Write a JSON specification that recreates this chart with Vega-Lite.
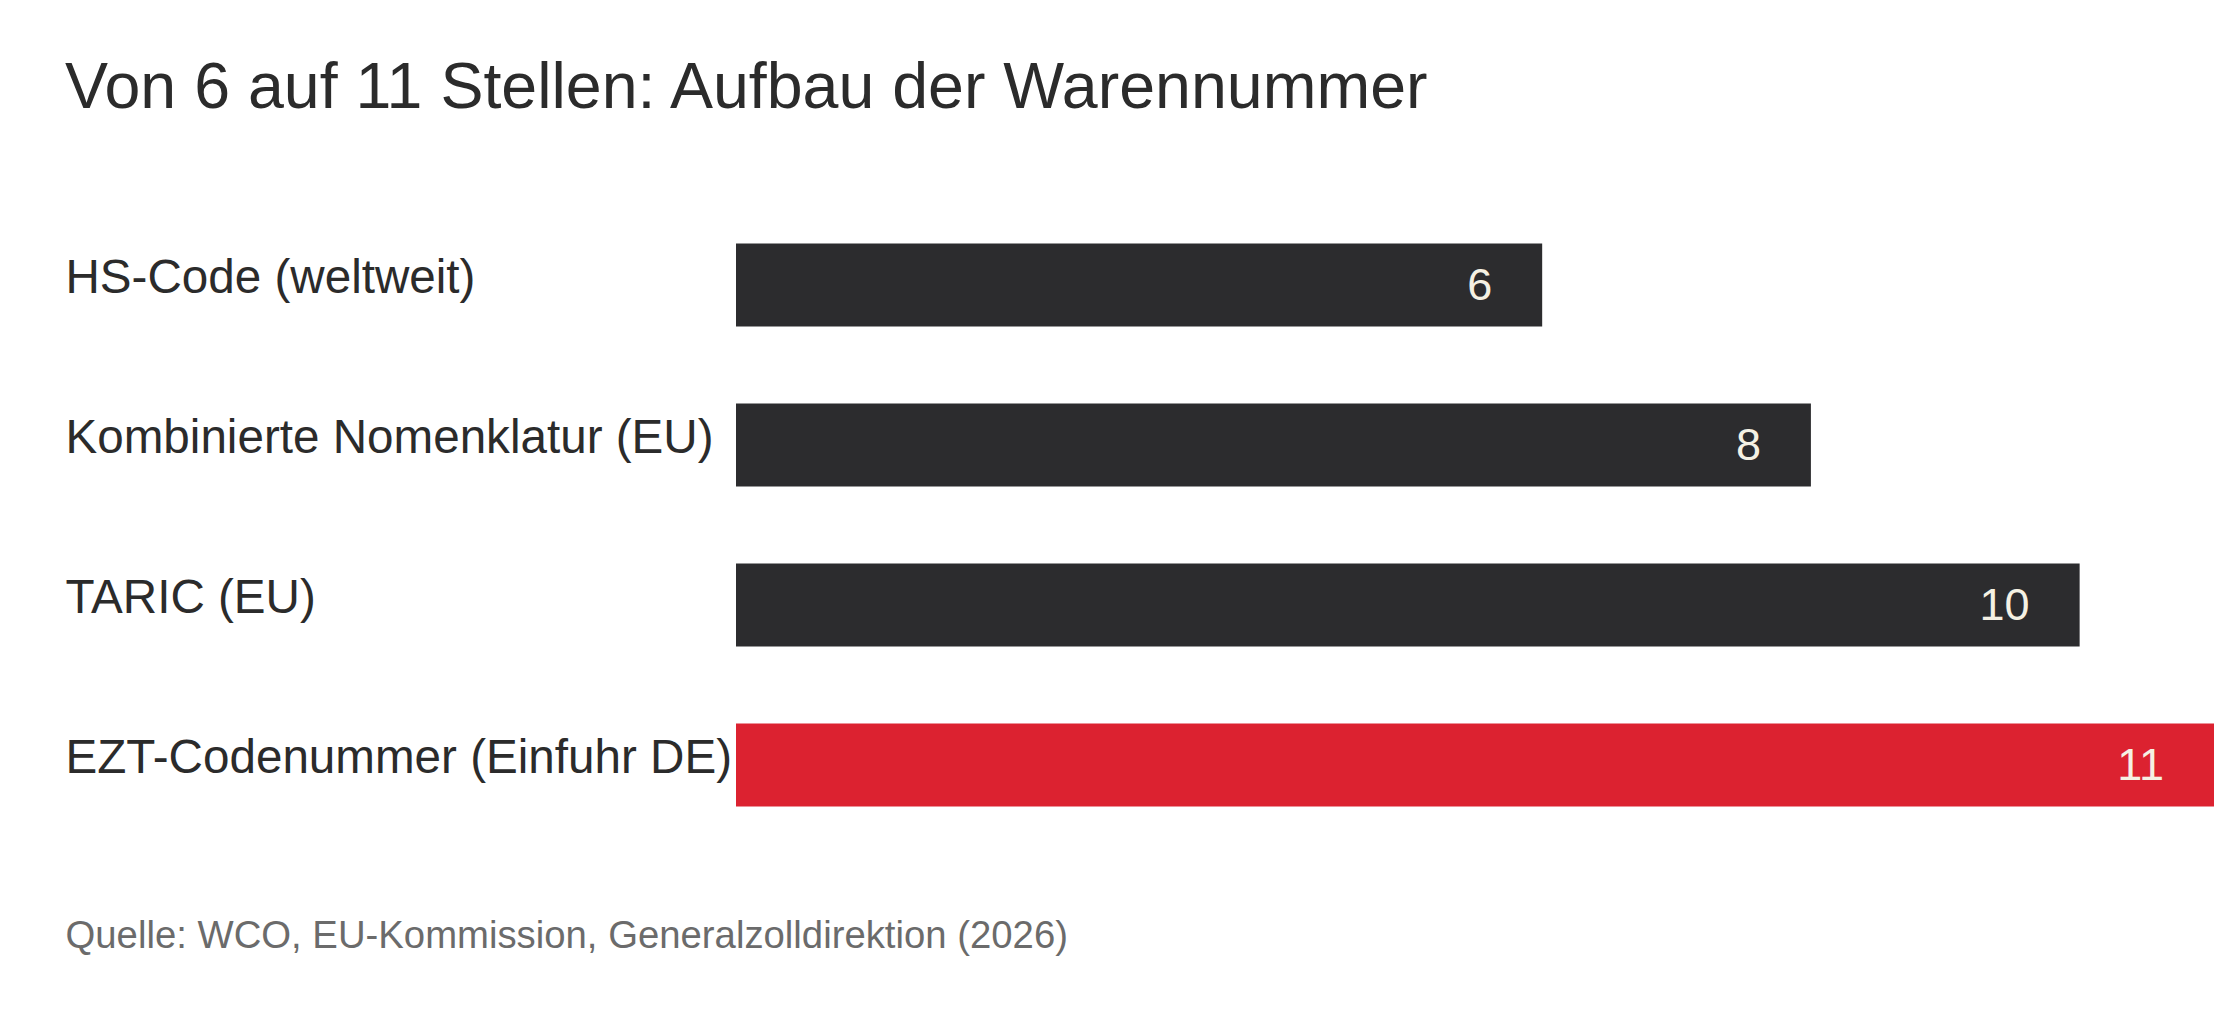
{
  "$schema": "https://vega.github.io/schema/vega-lite/v6.json",
  "width": 1478,
  "height": 640,
  "autosize": {"type": "none"},
  "padding": {"left": 736, "top": 205, "right": 26, "bottom": 179},
  "background": "#ffffff",
  "config": {"view": {"stroke": null}, "font": "Liberation Sans"},
  "title": {
    "text": "Von 6 auf 11 Stellen: Aufbau der Warennummer",
    "anchor": "start",
    "frame": "group",
    "dx": -671,
    "offset": 84,
    "fontSize": 64.5,
    "fontWeight": "normal",
    "color": "#2b2b2b",
    "font": "Liberation Sans"
  },
  "data": {
    "values": [
      {"code": "HS-Code (weltweit)", "stellen": 6},
      {"code": "Kombinierte Nomenklatur (EU)", "stellen": 8},
      {"code": "TARIC (EU)", "stellen": 10},
      {"code": "EZT-Codenummer (Einfuhr DE)", "stellen": 11}
    ]
  },
  "encoding": {
    "y": {
      "field": "code",
      "type": "nominal",
      "sort": null,
      "scale": {"paddingInner": 0.48, "paddingOuter": 0.24},
      "axis": {
        "title": null,
        "domain": false,
        "ticks": false,
        "labelAlign": "left",
        "labelBaseline": "middle",
        "labelPadding": 671,
        "labelOffset": -6,
        "labelFontSize": 47.6,
        "labelColor": "#2b2b2b",
        "labelFont": "Liberation Sans",
        "labelLimit": 0
      }
    },
    "x": {
      "field": "stellen",
      "type": "quantitative",
      "scale": {"domain": [0, 11], "nice": false},
      "axis": {
        "grid": false,
        "domain": false,
        "ticks": false,
        "labels": false,
        "title": "Quelle: WCO, EU-Kommission, Generalzolldirektion (2026)",
        "titleAnchor": "start",
        "titleAlign": "left",
        "titleX": -671,
        "titleY": 91,
        "titleBaseline": "middle",
        "titleFontSize": 38.3,
        "titleFontWeight": "normal",
        "titleColor": "#6b6b6b",
        "titleFont": "Liberation Sans"
      }
    }
  },
  "layer": [
    {
      "mark": {"type": "bar"},
      "encoding": {
        "color": {
          "condition": {"test": "datum.code === 'EZT-Codenummer (Einfuhr DE)'", "value": "#dc2230"},
          "value": "#2c2c2e"
        }
      }
    },
    {
      "mark": {
        "type": "text",
        "align": "right",
        "baseline": "middle",
        "dx": -50,
        "dy": 1,
        "fontSize": 45,
        "color": "#f5f1e3",
        "font": "Liberation Sans"
      },
      "encoding": {"text": {"field": "stellen", "type": "quantitative"}}
    }
  ]
}
